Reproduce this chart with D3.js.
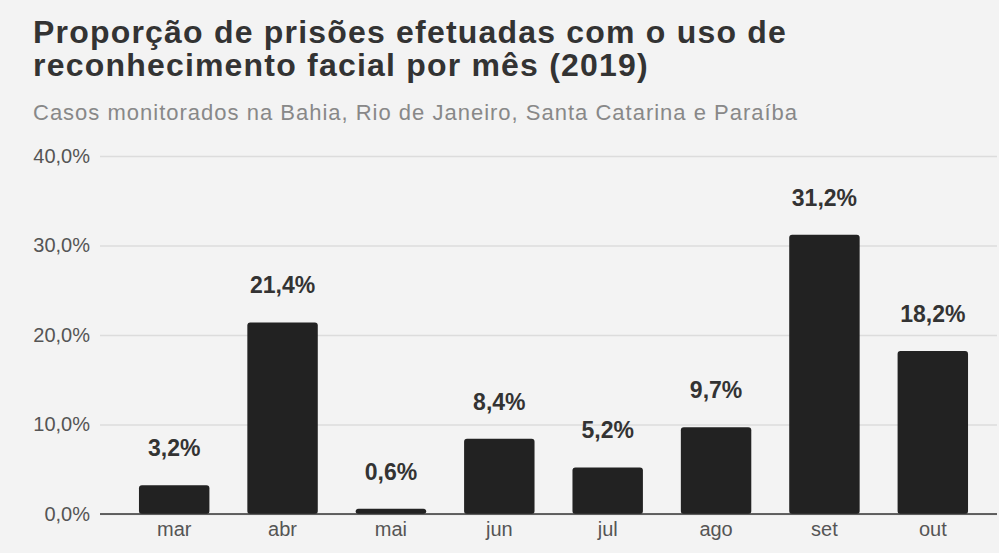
<!DOCTYPE html>
<html>
<head>
<meta charset="utf-8">
<script src="https://cdn.jsdelivr.net/npm/d3@7"></script>
<style>
  html, body { margin: 0; padding: 0; background: #f3f3f3; }
  svg { display: block; font-family: "Liberation Sans", Arial, sans-serif; }
</style>
</head>
<body>
<div id="chart"></div>
<script>
// chart data
const months = ["mar", "abr", "mai", "jun", "jul", "ago", "set", "out"];
const shares = [3.2, 21.4, 0.6, 8.4, 5.2, 9.7, 31.2, 18.2];
const yTicks = [0, 10, 20, 30, 40];
const titleLines = ["Proporção de prisões efetuadas com o uso de", "reconhecimento facial por mês (2019)"];
const subtitle = "Casos monitorados na Bahia, Rio de Janeiro, Santa Catarina e Paraíba";

const width = 999, height = 553;
const fmt = v => v.toFixed(1).replace(".", ",") + "%";

const svg = d3.select("#chart").append("svg")
    .attr("width", width)
    .attr("height", height);

svg.append("rect")
    .attr("width", width).attr("height", height)
    .attr("fill", "#f3f3f3");

// title + subtitle
svg.append("text")
    .attr("x", 33).attr("y", 43)
    .attr("font-size", 32).attr("font-weight", "bold").attr("fill", "#333")
    .attr("letter-spacing", 1.2)
  .selectAll("tspan")
  .data(titleLines)
  .join("tspan")
    .attr("x", 33)
    .attr("dy", (d, i) => i ? 33 : 0)
    .text(d => d);

svg.append("text")
    .attr("x", 33).attr("y", 120)
    .attr("font-size", 22).attr("fill", "#888")
    .attr("letter-spacing", 1)
    .text(subtitle);

// scales
const x = d3.scaleBand()
    .domain(months)
    .range([120, 987])
    .paddingInner(0.35)
    .paddingOuter(0.175);

const y = d3.scaleLinear()
    .domain([0, 40])
    .range([514, 156]);

// grid + y labels
const yAxis = svg.append("g")
    .attr("transform", "translate(100,0)")
    .call(d3.axisLeft(y).tickValues(yTicks).tickSize(-897).tickFormat(fmt));
yAxis.select(".domain").remove();
yAxis.selectAll(".tick line").attr("stroke", "#dcdcdc").attr("stroke-width", 1.5);
yAxis.selectAll(".tick text")
    .attr("x", -10)
    .attr("font-size", 20).attr("fill", "#555")
    .attr("font-family", "'Liberation Sans', Arial, sans-serif");

// bars
svg.append("g")
  .selectAll("rect")
  .data(months)
  .join("rect")
    .attr("x", d => x(d))
    .attr("y", (d, i) => y(shares[i]))
    .attr("width", x.bandwidth())
    .attr("height", (d, i) => y(0) - y(shares[i]))
    .attr("rx", 3)
    .attr("fill", "#222");

// value labels
svg.append("g")
  .selectAll("text")
  .data(months)
  .join("text")
    .attr("x", d => x(d) + x.bandwidth() / 2)
    .attr("y", (d, i) => y(shares[i]) - 29)
    .attr("text-anchor", "middle")
    .attr("font-size", 23).attr("font-weight", "bold").attr("fill", "#333")
    .text((d, i) => fmt(shares[i]));

// baseline + x labels
const xAxis = svg.append("g")
    .attr("transform", `translate(0,${y(0)})`)
    .call(d3.axisBottom(x).tickSize(0).tickPadding(8));
xAxis.select(".domain")
    .attr("d", "M100,0H997")
    .attr("stroke", "#333").attr("stroke-width", 1.5);
xAxis.selectAll(".tick text")
    .attr("font-size", 20).attr("fill", "#555")
    .attr("font-family", "'Liberation Sans', Arial, sans-serif");
</script>
</body>
</html>
